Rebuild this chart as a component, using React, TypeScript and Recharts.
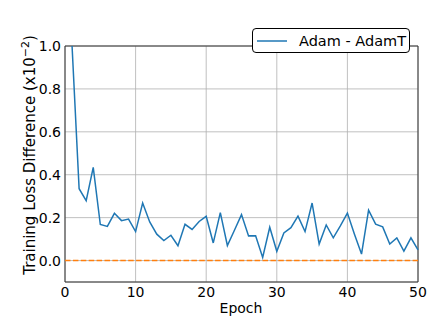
import {
  LineChart,
  Line,
  XAxis,
  YAxis,
  CartesianGrid,
  ReferenceLine,
  ReferenceArea,
  Legend,
} from "recharts";

const epochs = [
  1, 2, 3, 4, 5, 6, 7, 8, 9, 10, 11, 12, 13, 14, 15, 16, 17, 18, 19, 20, 21, 22, 23, 24, 25,
  26, 27, 28, 29, 30, 31, 32, 33, 34, 35, 36, 37, 38, 39, 40, 41, 42, 43, 44, 45, 46, 47, 48, 49, 50,
];

// Adam - AdamT, in units of 1e-2
const lossDiff = [
  1.0, 0.335, 0.279, 0.434, 0.168, 0.159, 0.22, 0.186, 0.193, 0.135,
  0.268, 0.18, 0.123, 0.093, 0.118, 0.069, 0.169, 0.145, 0.182, 0.206,
  0.082, 0.223, 0.07, 0.141, 0.214, 0.115, 0.116, 0.014, 0.155, 0.043,
  0.129, 0.153, 0.207, 0.135, 0.268, 0.077, 0.166, 0.106, 0.162, 0.221,
  0.123, 0.03, 0.235, 0.17, 0.157, 0.077, 0.105, 0.044, 0.106, 0.05,
];

const xTicks = [0, 10, 20, 30, 40, 50];
const yTicks = [0, 0.2, 0.4, 0.6, 0.8, 1.0];

const data = epochs.map((epoch, i) => ({ epoch, diff: lossDiff[i] }));

const FONT = "'DejaVu Sans', sans-serif";

function LegendBox() {
  return (
    <div
      style={{
        display: "flex",
        alignItems: "center",
        border: "1.2px solid #000",
        borderRadius: 4,
        background: "#fff",
        width: 158,
        height: 25,
        boxSizing: "border-box",
        fontFamily: FONT,
        fontSize: 14.5,
        color: "#000",
      }}
    >
      <svg width={42} height={10} style={{ marginLeft: 4 }}>
        <line x1={0} y1={5} x2={30} y2={5} stroke="#1f77b4" strokeWidth={1.5} />
      </svg>
      <span>Adam - AdamT</span>
    </div>
  );
}

export default function App() {
  return (
    <div style={{ position: "absolute", left: 0, top: 0, background: "#fff" }}>
      <LineChart
        width={443}
        height={332}
        data={data}
        margin={{ top: 21, right: 25, bottom: 0, left: 0 }}
      >
        <CartesianGrid stroke="#b0b0b0" strokeWidth={0.8} />
        <XAxis
          dataKey="epoch"
          type="number"
          domain={[0, 50]}
          ticks={xTicks}
          height={50}
          tickSize={0}
          tickMargin={5}
          axisLine={false}
          tickLine={false}
          tick={{ fill: "#000", fontSize: 14, fontFamily: FONT }}
          label={{
            content: () => (
              <text x={241} y={313} textAnchor="middle" fontSize={14} fontFamily={FONT} fill="#000">
                Epoch
              </text>
            ),
          }}
        />
        <YAxis
          type="number"
          domain={[-0.1, 1.0]}
          ticks={yTicks}
          allowDataOverflow
          width={65}
          tickSize={0}
          tickMargin={4}
          axisLine={false}
          tickLine={false}
          tickFormatter={(v: number) => v.toFixed(1)}
          tick={{ fill: "#000", fontSize: 14, fontFamily: FONT }}
          label={{
            content: () => (
              <text
                transform="translate(35,155) rotate(-90)"
                textAnchor="middle"
                fontSize={15}
                fontFamily={FONT}
                fill="#000"
              >
                Training Loss Difference (x10
                <tspan dy={-6} fontSize={11}>
                  −2
                </tspan>
                <tspan dy={6}>)</tspan>
              </text>
            ),
          }}
        />
        <ReferenceLine y={0} stroke="#ff7f0e" strokeWidth={1.5} strokeDasharray="5.5 2.4" />
        <Line
          dataKey="diff"
          stroke="#1f77b4"
          strokeWidth={1.5}
          dot={false}
          isAnimationActive={false}
        />
        <ReferenceArea
          x1={0}
          x2={50}
          y1={-0.1}
          y2={1.0}
          fill="none"
          stroke="#333"
          strokeWidth={1}
          fillOpacity={0}
        />
        <Legend
          verticalAlign="top"
          align="right"
          wrapperStyle={{ top: 28, left: 252, width: 160 }}
          content={() => <LegendBox />}
        />
      </LineChart>
    </div>
  );
}
